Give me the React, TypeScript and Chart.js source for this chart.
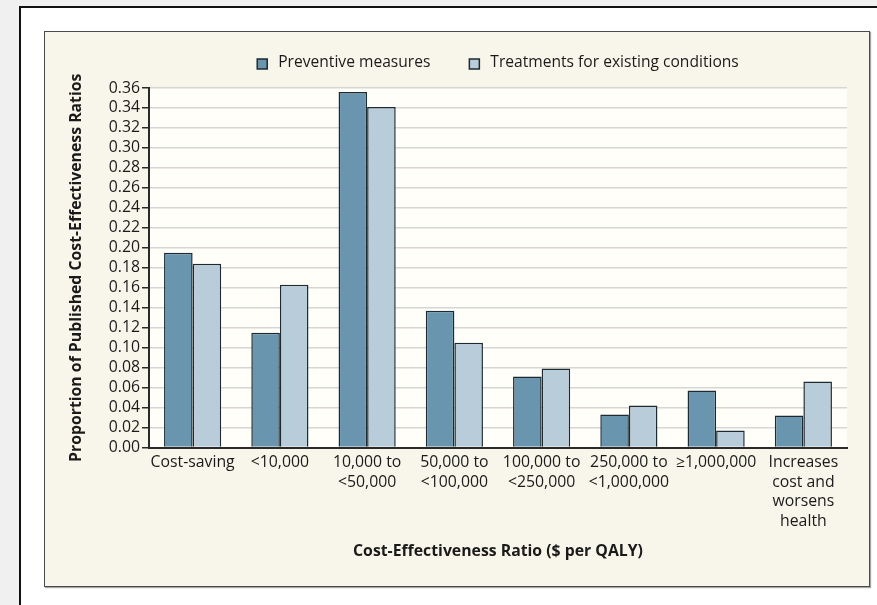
import React, { useEffect, useRef } from "react";
import { Chart, registerables } from "chart.js";

Chart.register(...registerables);

const categories: (string | string[])[] = [
  "Cost-saving",
  "<10,000",
  ["10,000 to", "<50,000"],
  ["50,000 to", "<100,000"],
  ["100,000 to", "<250,000"],
  ["250,000 to", "<1,000,000"],
  "≥1,000,000",
  ["Increases", "cost and", "worsens", "health"],
];

const preventiveMeasures = [0.195, 0.115, 0.356, 0.137, 0.071, 0.033, 0.057, 0.032];
const treatmentsExisting = [0.184, 0.163, 0.341, 0.105, 0.079, 0.042, 0.017, 0.066];

const seriesNames = ["Preventive measures", "Treatments for existing conditions"];
const yMin = 0;
const yMax = 0.36;
const yStep = 0.02;

const xTitle = "Cost-Effectiveness Ratio ($ per QALY)";
const yTitle = "Proportion of Published Cost-Effectiveness Ratios";

const FONT = '"Open Sans", "DejaVu Sans", sans-serif';
const TEXT = "#1a1a1a";

const plotBgPlugin = {
  id: "plotBg",
  beforeDraw(chart: any) {
    const { ctx, chartArea } = chart;
    if (!chartArea) return;
    ctx.save();
    ctx.fillStyle = "#fffef9";
    ctx.fillRect(chartArea.left, chartArea.top, chartArea.right - chartArea.left, chartArea.bottom - chartArea.top);
    ctx.restore();
  },
};

const legendPlugin = {
  id: "centeredLegend",
  afterDraw(chart: any) {
    const { ctx, chartArea } = chart;
    if (!chartArea) return;
    ctx.save();
    ctx.font = `15.6px ${FONT}`;
    const box = 10;
    const textGap = 11;
    const itemGap = 39;
    const items = chart.data.datasets.map((ds: any) => ({
      text: ds.label as string,
      fill: ds.backgroundColor as string,
      stroke: ds.borderColor as string,
      w: ctx.measureText(ds.label).width,
    }));
    let total = 0;
    items.forEach((it: any, i: number) => {
      total += box + textGap + it.w + (i > 0 ? itemGap : 0);
    });
    let x = (chartArea.left + chartArea.right) / 2 - total / 2;
    const y = 31;
    ctx.textBaseline = "middle";
    ctx.textAlign = "left";
    items.forEach((it: any) => {
      ctx.fillStyle = it.fill;
      ctx.fillRect(x, y - 4, box, box);
      ctx.strokeStyle = it.stroke;
      ctx.lineWidth = 1.5;
      ctx.strokeRect(x, y - 4, box, box);
      ctx.fillStyle = TEXT;
      ctx.fillText(it.text, x + box + textGap, y);
      x += box + textGap + it.w + itemGap;
    });
    ctx.restore();
  },
};

export default function App() {
  const canvasRef = useRef<HTMLCanvasElement | null>(null);

  useEffect(() => {
    if (!canvasRef.current) return;
    const chart = new Chart(canvasRef.current, {
      type: "bar",
      data: {
        labels: categories,
        datasets: [
          {
            label: seriesNames[0],
            data: preventiveMeasures,
            backgroundColor: "#6996ae",
            borderColor: "#1d2a32",
            borderWidth: 1.5,
            categoryPercentage: 0.655,
            barPercentage: 1.0,
          },
          {
            label: seriesNames[1],
            data: treatmentsExisting,
            backgroundColor: "#b8ccda",
            borderColor: "#1d2a32",
            borderWidth: 1.5,
            categoryPercentage: 0.655,
            barPercentage: 1.0,
          },
        ],
      },
      options: {
        animation: false,
        responsive: true,
        maintainAspectRatio: false,
        layout: { padding: { top: 56, left: 22, right: 22, bottom: 0 } },
        plugins: {
          legend: { display: false },
          tooltip: { enabled: false },
        },
        scales: {
          x: {
            grid: { display: false, drawTicks: false },
            border: { display: true, color: "#2a2a2a", width: 2 },
            ticks: {
              autoSkip: false,
              maxRotation: 0,
              minRotation: 0,
              padding: 5,
              color: TEXT,
              font: { family: FONT, size: 15.8, lineHeight: 1.25 },
            },
            title: {
              display: true,
              text: xTitle,
              color: TEXT,
              font: { family: FONT, size: 15.8, weight: "bold" },
              padding: { top: 0, bottom: 25 },
            },
            afterFit(scale: any) {
              scale.height = 138.5;
              scale.paddingLeft = 0;
              scale.paddingRight = 0;
            },
          },
          y: {
            min: yMin,
            max: yMax,
            grid: {
              color: "#d6d6d4",
              lineWidth: 1.5,
              drawTicks: true,
              tickLength: 7,
              tickColor: "#2a2a2a",
              tickWidth: 1.5,
            },
            border: { display: true, color: "#2a2a2a", width: 2 },
            ticks: {
              stepSize: yStep,
              autoSkip: false,
              padding: 2,
              color: TEXT,
              font: { family: FONT, size: 15.8 },
              callback: (v: any) => Number(v).toFixed(2),
            },
            title: {
              display: true,
              text: yTitle,
              color: TEXT,
              font: { family: FONT, size: 15.8, weight: "bold" },
              padding: { top: 0, bottom: 0 },
            },
            afterFit(scale: any) {
              scale.width = 82;
              scale.paddingTop = 0;
              scale.paddingBottom = 0;
            },
          },
        },
      },
      plugins: [plotBgPlugin, legendPlugin],
    } as any);
    return () => chart.destroy();
  }, []);

  return (
    <div style={{ position: "fixed", left: 0, top: 0, width: 877, height: 605, background: "#f0f0f0", overflow: "hidden" }}>
      <div
        style={{
          position: "absolute",
          left: 19,
          top: 6,
          width: 900,
          height: 700,
          background: "#ffffff",
          borderLeft: "2px solid #111",
          borderTop: "2px solid #111",
        }}
      />
      <div
        style={{
          position: "absolute",
          left: 44,
          top: 31,
          width: 824,
          height: 554,
          background: "#f8f6ea",
          border: "1px solid #4a4a4a",
          boxShadow: "1px 1px 1px rgba(0,0,0,0.35)",
        }}
      >
        <div style={{ position: "relative", width: 824, height: 554 }}>
          <canvas ref={canvasRef} />
        </div>
      </div>
    </div>
  );
}
